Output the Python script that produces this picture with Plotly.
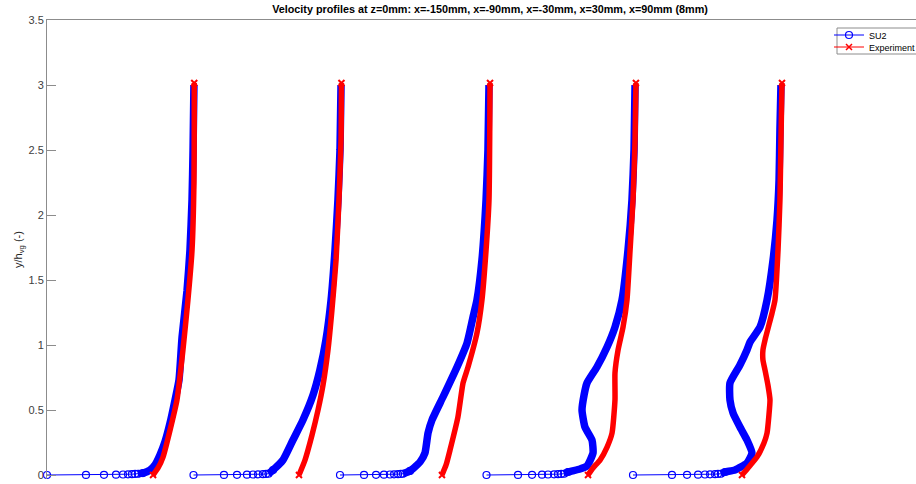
import plotly.graph_objects as go

# ---------------- data (u/U_inf, y/h_vg) per station ----------------
STATIONS = ["x=-150mm", "x=-90mm", "x=-30mm", "x=30mm", "x=90mm"]
OFFSETS = [0, 1, 2, 3, 4]

SU2_WALL_Y = [0, 0.0008, 0.0017, 0.0027, 0.0038, 0.005, 0.0064, 0.008, 0.0098]

su2_u_1 = [0.000, 0.266, 0.389, 0.471, 0.519, 0.553, 0.580, 0.601, 0.621,
           0.655, 0.703, 0.737, 0.771, 0.805, 0.840, 0.874, 0.901, 0.922, 0.956, 0.976, 0.990, 0.997, 1.003]
su2_y_1 = SU2_WALL_Y + [0.015, 0.038, 0.077, 0.154, 0.254, 0.400, 0.577, 0.731, 1.060, 1.420, 1.730, 2.120, 2.500, 3.000]

su2_u_2 = [0.000, 0.208, 0.297, 0.365, 0.406, 0.440, 0.474, 0.495, 0.512,
           0.543, 0.611, 0.679, 0.747, 0.816, 0.863, 0.904, 0.939, 0.966, 0.986, 1.000, 1.007]
su2_y_2 = SU2_WALL_Y + [0.038, 0.115, 0.269, 0.423, 0.615, 0.808, 1.040, 1.346, 1.731, 2.115, 2.500, 3.000]

su2_u_3 = [0.000, 0.164, 0.246, 0.300, 0.341, 0.369, 0.396, 0.415, 0.430,
           0.478, 0.546, 0.580, 0.601, 0.628, 0.703, 0.799, 0.867, 0.908, 0.935, 0.969, 0.997, 1.010, 1.017]
su2_y_3 = SU2_WALL_Y + [0.031, 0.100, 0.169, 0.323, 0.423, 0.600, 0.831, 1.015, 1.215, 1.346, 1.654, 2.115, 2.500, 3.000]

su2_u_4 = [0.000, 0.215, 0.311, 0.379, 0.420, 0.461, 0.488, 0.510, 0.530,
           0.556, 0.638, 0.686, 0.727, 0.720, 0.672, 0.652, 0.666, 0.686, 0.754, 0.823, 0.877, 0.925,
           0.966, 0.993, 1.007, 1.014]
su2_y_4 = SU2_WALL_Y + [0.023, 0.046, 0.069, 0.169, 0.269, 0.369, 0.500, 0.615, 0.708, 0.831, 0.985, 1.138, 1.346,
                        1.731, 2.115, 2.500, 3.000]

su2_u_5 = [0.000, 0.266, 0.369, 0.444, 0.491, 0.526, 0.560, 0.580, 0.600,
           0.628, 0.696, 0.778, 0.812, 0.778, 0.730, 0.683, 0.662, 0.662, 0.730, 0.778, 0.799, 0.867,
           0.915, 0.956, 0.983, 0.997, 1.003, 1.010]
su2_y_5 = SU2_WALL_Y + [0.023, 0.038, 0.092, 0.169, 0.269, 0.369, 0.477, 0.577, 0.708, 0.846, 0.962, 1.023, 1.138,
                        1.346, 1.654, 1.962, 2.269, 2.654, 3.000]

exp_u_1 = [0.724, 0.758, 0.792, 0.840, 0.887, 0.928, 0.962, 0.990, 1.003, 1.005, 1.005]
exp_y_1 = [0.000, 0.054, 0.138, 0.346, 0.577, 0.962, 1.346, 1.731, 2.246, 2.730, 3.015]

exp_u_2 = [0.720, 0.761, 0.809, 0.850, 0.884, 0.918, 0.945, 0.973, 0.993, 1.007, 1.010]
exp_y_2 = [0.000, 0.115, 0.308, 0.500, 0.692, 0.962, 1.269, 1.654, 2.115, 2.577, 3.015]

exp_u_3 = [0.696, 0.724, 0.751, 0.805, 0.840, 0.874, 0.935, 0.969, 0.997, 1.017, 1.024]
exp_y_3 = [0.000, 0.077, 0.192, 0.446, 0.708, 0.831, 1.092, 1.346, 1.731, 2.115, 3.015]

exp_u_4 = [0.693, 0.727, 0.775, 0.823, 0.857, 0.877, 0.877, 0.898, 0.932, 0.959, 0.980, 1.000, 1.014, 1.020]
exp_y_4 = [0.000, 0.054, 0.115, 0.215, 0.323, 0.577, 0.785, 0.962, 1.138, 1.346, 1.731, 2.115, 2.577, 3.015]

exp_u_5 = [0.744, 0.785, 0.846, 0.894, 0.915, 0.928, 0.935, 0.921, 0.901, 0.887, 0.887, 0.901, 0.949, 0.969,
           0.990, 1.003, 1.010, 1.017]
exp_y_5 = [0.000, 0.054, 0.138, 0.246, 0.323, 0.462, 0.577, 0.692, 0.808, 0.885, 0.962, 1.038, 1.246, 1.346,
           1.731, 2.115, 2.577, 3.015]

SU2_U = [su2_u_1, su2_u_2, su2_u_3, su2_u_4, su2_u_5]
SU2_Y = [su2_y_1, su2_y_2, su2_y_3, su2_y_4, su2_y_5]
EXP_U = [exp_u_1, exp_u_2, exp_u_3, exp_u_4, exp_u_5]
EXP_Y = [exp_y_1, exp_y_2, exp_y_3, exp_y_4, exp_y_5]

Y_TICKS = [0, 0.5, 1, 1.5, 2, 2.5, 3, 3.5]
TITLE = "Velocity profiles at z=0mm: x=-150mm, x=-90mm, x=-30mm, x=30mm, x=90mm (8mm)"

# ---------------- figure ----------------
BLUE = "#0000FF"
RED = "#FF0000"
FONT = "Liberation Sans, Arial, sans-serif"
AXC = "#8c8c8c"

W, H = 916, 484
ML, MR, MT, MB = 47, 0, 20, 5
PX_PER_UNIT = 146.5
PLOT_W = W - ML - MR
PLOT_H = H - MT - MB
x_max = PLOT_W / PX_PER_UNIT
y_min = -((H - MB) - 475) / 130.0


def px_to_paper_x(px):
    return (px - ML) / PLOT_W


def px_to_paper_y(py):
    return 1 - (py - MT) / PLOT_H


fig = go.Figure()

n_wall = len(SU2_WALL_Y)
for k in range(len(OFFSETS)):
    off = OFFSETS[k]
    xs = [off + u for u in SU2_U[k]]
    ys = SU2_Y[k]
    fig.add_trace(go.Scatter(
        x=xs[n_wall - 1:], y=ys[n_wall - 1:], mode="lines",
        line=dict(color=BLUE, width=7.5, shape="spline", smoothing=0.5),
        showlegend=False, hoverinfo="skip"))
    fig.add_trace(go.Scatter(
        x=xs[:n_wall + 1], y=ys[:n_wall + 1], mode="lines+markers",
        line=dict(color=BLUE, width=1),
        marker=dict(symbol="circle-open", size=7, color=BLUE, line=dict(width=1.2)),
        showlegend=False, cliponaxis=False, hoverinfo="skip"))
    ex = [off + u for u in EXP_U[k]]
    fig.add_trace(go.Scatter(
        x=ex, y=EXP_Y[k], mode="lines",
        line=dict(color=RED, width=5.5, shape="spline", smoothing=0.5),
        showlegend=False, hoverinfo="skip"))
    fig.add_trace(go.Scatter(
        x=[ex[0], ex[-1]], y=[EXP_Y[k][0], EXP_Y[k][-1]], mode="markers",
        marker=dict(symbol="x-thin-open", size=6, color=RED, line=dict(width=2, color=RED)),
        showlegend=False, cliponaxis=False, hoverinfo="skip"))

# legend entries (two single-item legends inside one framed box)
fig.add_trace(go.Scatter(
    x=[None], y=[None], mode="lines+markers", name="SU2", legend="legend",
    line=dict(color=BLUE, width=1),
    marker=dict(symbol="circle-open", size=7, color=BLUE, line=dict(width=1.2))))
fig.add_trace(go.Scatter(
    x=[None], y=[None], mode="lines+markers", name="Experiment", legend="legend2",
    line=dict(color=RED, width=1),
    marker=dict(symbol="x-thin-open", size=6, color=RED, line=dict(width=1.5, color=RED))))

leg_common = dict(xanchor="left", yanchor="middle", bgcolor="rgba(0,0,0,0)", borderwidth=0,
                  font=dict(family=FONT, size=9, color="black"), itemwidth=30)

fig.add_shape(type="rect", xref="paper", yref="paper",
              x0=px_to_paper_x(837), x1=px_to_paper_x(960),
              y0=px_to_paper_y(54), y1=px_to_paper_y(28),
              line=dict(color=AXC, width=1), fillcolor="white", layer="above")

fig.update_layout(
    width=W, height=H,
    margin=dict(l=ML, r=MR, t=MT, b=MB, autoexpand=False),
    paper_bgcolor="white", plot_bgcolor="white",
    font=dict(family=FONT, size=11, color="#262626"),
    title=dict(text="<b>" + TITLE + "</b>", x=px_to_paper_x(490), xref="paper",
               xanchor="center", y=1 - 9 / H, yref="container", yanchor="middle",
               font=dict(family=FONT, size=10.8, color="black")),
    xaxis=dict(range=[0, x_max], side="top", showline=True, linecolor=AXC, linewidth=1,
               showticklabels=False, ticks="", showgrid=False, zeroline=False),
    yaxis=dict(range=[y_min, 3.5], tickvals=Y_TICKS, ticktext=[f"{v:g}" for v in Y_TICKS],
               ticks="inside", ticklen=9, tickcolor=AXC, showline=True, linecolor=AXC,
               linewidth=1, showgrid=False, zeroline=False,
               tickfont=dict(family=FONT, size=11, color="#404040"),
               title=dict(text="y/h<sub>vg</sub> (-)", standoff=3,
                          font=dict(family=FONT, size=11, color="#262626"))),
    legend=dict(x=px_to_paper_x(829), y=px_to_paper_y(35), **leg_common),
    legend2=dict(x=px_to_paper_x(829), y=px_to_paper_y(47), **leg_common),
    showlegend=True,
)

fig.write_html("out.html")
